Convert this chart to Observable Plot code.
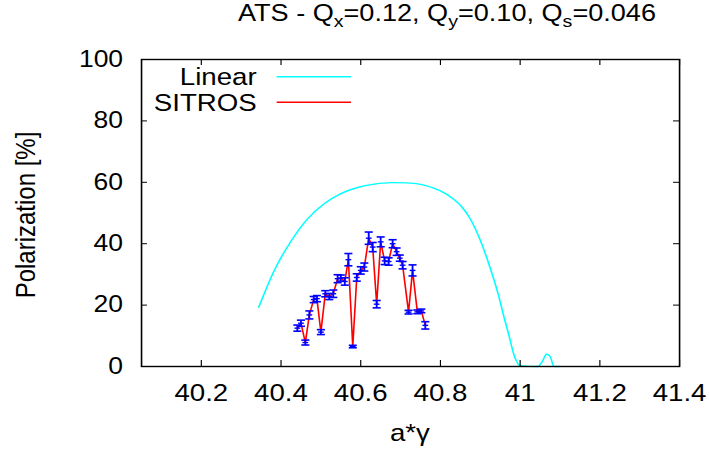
<!DOCTYPE html>
<html><head><meta charset="utf-8">
<script src="https://cdn.jsdelivr.net/npm/d3@7"></script>
<script src="https://cdn.jsdelivr.net/npm/@observablehq/plot@0.6"></script>
<style>body{margin:0;background:#fff}#chart svg{display:block}</style>
</head><body><div id="chart"></div>
<script>
// ---- data ----
const linearX = [40.344, 40.383, 40.425, 40.466, 40.508, 40.55, 40.592, 40.634, 40.676, 40.717, 40.759, 40.80, 40.83, 40.855, 40.876, 40.90, 40.925, 40.945, 40.96, 40.972, 40.985, 41.0, 41.044, 41.055, 41.066, 41.075, 41.085, 41.10];
const linearY = [19.3, 31.3, 40.8, 48.0, 53.0, 56.3, 58.3, 59.4, 59.9, 59.8, 59.1, 57.2, 54.8, 51.8, 47.8, 41.1, 32.0, 23.5, 15.8, 10.1, 3.6, 0.3, 0, 1.5, 4.0, 3.3, 0, 0];
const sitrosX = [40.441, 40.450, 40.461, 40.471, 40.482, 40.490, 40.500, 40.511, 40.521, 40.531, 40.542, 40.550, 40.560, 40.569, 40.580, 40.590, 40.600, 40.609, 40.620, 40.630, 40.640, 40.650, 40.660, 40.670, 40.680, 40.690, 40.698, 40.705, 40.720, 40.730, 40.742, 40.752, 40.762];
const sitrosY = [12.5, 14.1, 7.8, 16.8, 21.8, 22.1, 11.2, 23.7, 22.8, 23.7, 28.6, 28.8, 27.7, 34.8, 6.5, 29.0, 31.3, 32.4, 41.8, 38.9, 20.3, 40.6, 34.4, 34.2, 40.0, 37.4, 35.3, 33.0, 17.7, 31.3, 17.8, 18.1, 13.4];
const sitrosErr = [1.0, 1.0, 0.8, 1.3, 1.0, 1.0, 0.8, 1.0, 1.0, 1.2, 1.3, 1.0, 1.2, 2.0, 0.4, 1.2, 1.2, 1.3, 2.0, 1.5, 1.2, 1.6, 1.2, 1.2, 1.3, 1.2, 1.0, 1.2, 0.6, 1.8, 0.6, 0.6, 1.2];
const xTicks = [40.2, 40.4, 40.6, 40.8, 41, 41.2, 41.4];
const xTickLabels = ["40.2", "40.4", "40.6", "40.8", "41", "41.2", "41.4"];
const yTicks = [0, 20, 40, 60, 80, 100];
const yTickLabels = ["0", "20", "40", "60", "80", "100"];
const xDomain = [40.05, 41.4];
const yDomain = [0, 100];
const legendLabels = ["Linear", "SITROS"];
const seriesColors = ["#00ffff", "#ff0000"];
const errColor = "#0000ff";
const titleParts = [["ATS - Q", false], ["x", true], ["=0.12, Q", false], ["y", true], ["=0.10, Q", false], ["s", true], ["=0.046", false]];
const xLabel = "a*\u03b3";
const yLabel = "Polarization [%]";

// ---- layout ----
const FONT = "'Liberation Sans', Arial, Helvetica, sans-serif";
const SCREEN_W = 710, W = 616, H = 453;
const mL = 122.3, mR = 26.9, mT = 59, mB = 87;
const plotW = W - mL - mR, plotH = H - mT - mB;

const linear = linearX.map((x, i) => ({x, y: linearY[i]}));
const sitros = sitrosX.map((x, i) => ({x, y: sitrosY[i], e: sitrosErr[i]}));
const hbar = {draw(ctx, size) { const r = Math.sqrt(size / Math.PI); ctx.moveTo(-r, 0); ctx.lineTo(r, 0); }};

const svg = Plot.plot({
  width: W, height: H,
  marginLeft: mL, marginRight: mR, marginTop: mT, marginBottom: mB,
  style: {fontFamily: FONT, fontSize: "23px", background: "white", color: "#000"},
  x: {domain: xDomain},
  y: {domain: yDomain},
  marks: [
    Plot.line(linear, {x: "x", y: "y", stroke: seriesColors[0], strokeWidth: 1.4, curve: "monotone-x"}),
    Plot.line(sitros, {x: "x", y: "y", stroke: seriesColors[1], strokeWidth: 1.4}),
    Plot.link(sitros, {x1: "x", x2: "x", y1: d => d.y - d.e, y2: d => d.y + d.e, stroke: errColor, strokeWidth: 1.6}),
    Plot.dot(sitros, {x: "x", y: d => d.y + d.e, symbol: hbar, r: 3.5, fill: "none", stroke: errColor, strokeWidth: 1.6}),
    Plot.dot(sitros, {x: "x", y: d => d.y - d.e, symbol: hbar, r: 3.5, fill: "none", stroke: errColor, strokeWidth: 1.6}),
    Plot.dot(sitros, {x: "x", y: "y", symbol: hbar, r: 2.5, fill: "none", stroke: errColor, strokeWidth: 1.4}),
    Plot.tickX(xTicks, {x: d => d, insetTop: plotH - 6, stroke: "#000", strokeWidth: 1}),
    Plot.tickX(xTicks, {x: d => d, insetBottom: plotH - 6, stroke: "#000", strokeWidth: 1}),
    Plot.tickY(yTicks, {y: d => d, insetRight: plotW - 5.2, stroke: "#000", strokeWidth: 1}),
    Plot.tickY(yTicks, {y: d => d, insetLeft: plotW - 5.2, stroke: "#000", strokeWidth: 1}),
    Plot.frame({stroke: "#000", strokeWidth: 1.4}),
    Plot.axisX(xTicks, {tickSize: 0, tickPadding: 17, tickFormat: d => xTickLabels[xTicks.indexOf(d)], label: null, fontSize: 24}),
    Plot.axisY(yTicks, {tickSize: 0, tickPadding: 16, tickFormat: d => yTickLabels[yTicks.indexOf(d)], label: null, fontSize: 23})
  ]
});

// stretch horizontally like the reference rendering
svg.setAttribute("width", SCREEN_W);
svg.setAttribute("height", H);
svg.setAttribute("preserveAspectRatio", "none");
svg.style.width = SCREEN_W + "px";
svg.style.height = H + "px";
svg.style.maxWidth = "none";

const g = d3.select(svg).append("g").style("font-family", FONT).attr("fill", "#000");

// title
const t = g.append("text").attr("x", 387.8).attr("y", 21.5).attr("text-anchor", "middle").style("font-size", "23.5px");
let shifted = false;
titleParts.forEach(([s, sub]) => {
  const ts = t.append("tspan").text(s);
  if (sub && !shifted) { ts.attr("dy", 6).style("font-size", "17px"); shifted = true; }
  else if (!sub && shifted) { ts.attr("dy", -6); shifted = false; }
});

// axis titles
g.append("text").attr("x", 355.7).attr("y", 441).attr("text-anchor", "middle").style("font-size", "24px").text(xLabel);
g.append("text").attr("transform", "translate(30.4,215) rotate(-90)").attr("text-anchor", "middle").style("font-size", "24px").text(yLabel);

// legend
const legY = [85, 111], lineY = [76.7, 102.3];
legendLabels.forEach((lab, i) => {
  g.append("text").attr("x", 222.7).attr("y", legY[i]).attr("text-anchor", "end").style("font-size", "24px").text(lab);
  g.append("line").attr("x1", 240).attr("x2", 304.5).attr("y1", lineY[i]).attr("y2", lineY[i]).attr("stroke", seriesColors[i]).attr("stroke-width", 1.4);
});

document.getElementById("chart").appendChild(svg);
</script>
</body></html>
